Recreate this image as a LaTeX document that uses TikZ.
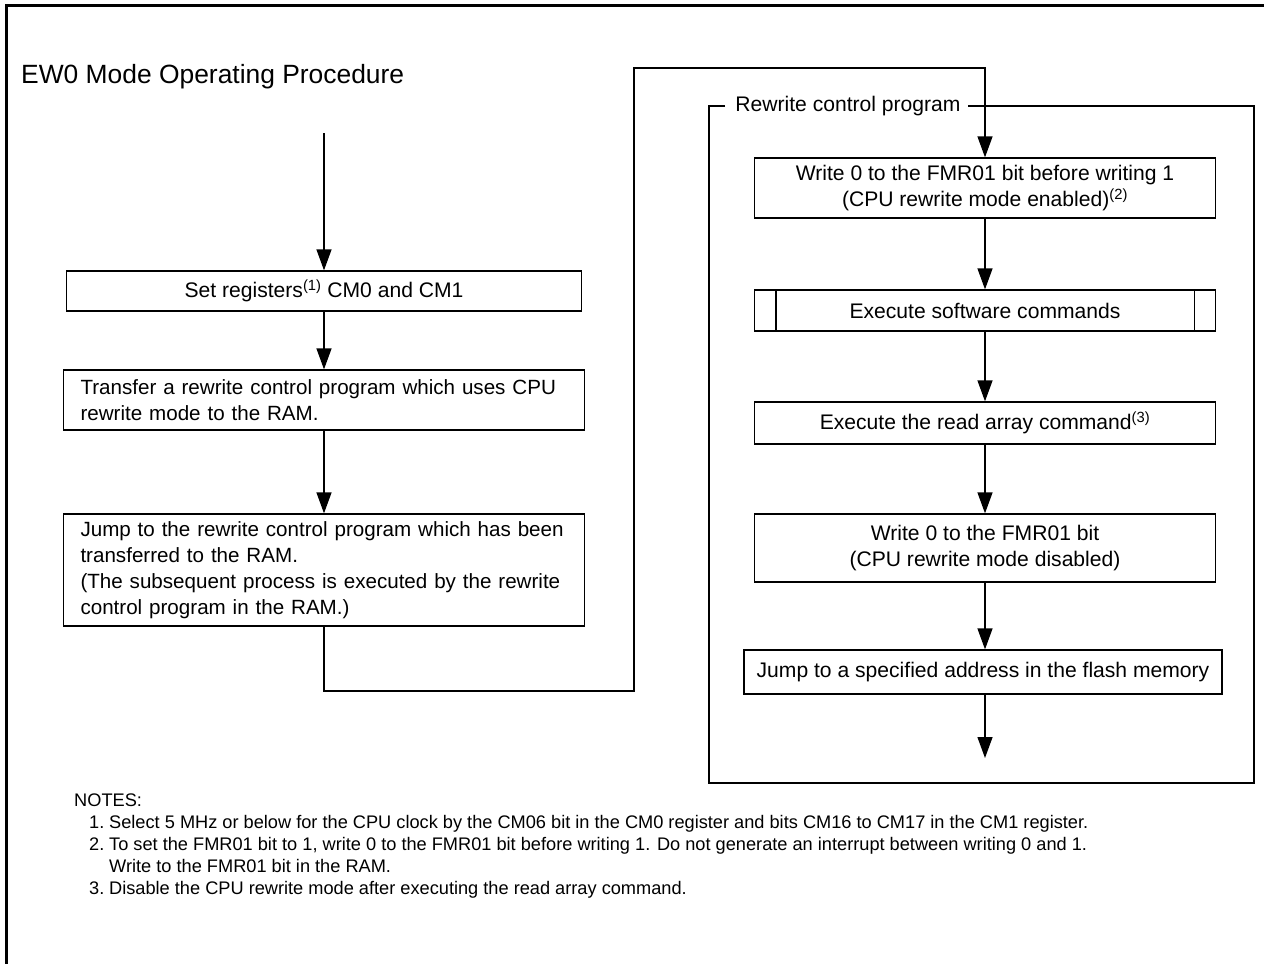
\documentclass[tikz,border=0pt]{standalone}
\usepackage{fontspec}
\setmainfont{Liberation Sans}
\usetikzlibrary{positioning,arrows.meta}

\begin{document}
\begin{tikzpicture}[
  x=1pt, y=-1pt,
  box/.style={draw, line width=1.3pt, inner sep=0pt, align=center, minimum width=461pt, font=\fontsize{21.1}{26.5}\selectfont},
  lbox/.style={box, minimum width=521pt, text width=487pt, inner xsep=17pt, align=left, font=\fontsize{20.6}{26.2}\selectfont},
  arrow/.style={-{Triangle[length=21pt,width=15pt]}, line width=1.3pt},
  note/.style={align=left, inner sep=0pt, font=\fontsize{18.2}{22}\selectfont}
]
\useasboundingbox (0,0) rectangle (1264,964);
\draw[line width=3pt] (6.5,964) -- (6.5,5.5) -- (1264,5.5);
\node[anchor=base west, inner sep=0pt, font=\fontsize{26.4}{30}\selectfont] (title) at (21,83) {EW0 Mode Operating Procedure};

% left column
\coordinate (start) at (324,133);
\node[box, minimum width=515pt, minimum height=40pt] (regs) at (324,291) {Set registers\textsuperscript{(1)} CM0 and CM1};
\node[lbox, minimum height=60pt] (xfer) at (324,400) {Transfer a rewrite control program which uses CPU\\rewrite mode to the RAM.};
\node[lbox, minimum height=112pt] (jump) at (324,570) {Jump to the rewrite control program which has been\\transferred to the RAM.\\(The subsequent process is executed by the rewrite\\control program in the RAM.)};
\coordinate (turn) at (634,691);
\coordinate (over) at (985,68);

% rewrite control program
\draw[line width=1.3pt] (725,106) -| (709,783) -| (1254,106) -- (968,106);
\node[font=\fontsize{21.1}{26}\selectfont, inner sep=0pt] (rcp) at (848,106) {Rewrite control program};
\node[box, minimum height=60pt] (enable) at (985,188) {Write 0 to the FMR01 bit before writing 1\\(CPU rewrite mode enabled)\textsuperscript{(2)}};
\node[box, minimum height=41pt] (exec) at (985,310.5) {Execute software commands};
\draw[line width=1.3pt] ([xshift=22pt]exec.north west) -- ([xshift=22pt]exec.south west)
  ([xshift=-22pt]exec.north east) -- ([xshift=-22pt]exec.south east);
\node[box, minimum height=42pt] (read) at (985,423) {Execute the read array command\textsuperscript{(3)}};
\node[box, minimum height=68pt] (disable) at (985,548) {Write 0 to the FMR01 bit\\(CPU rewrite mode disabled)};
\node[box, minimum width=478pt, minimum height=44pt] (flash) at (983,672) {Jump to a specified address in the flash memory};
\coordinate (end) at (985,758);

\draw[arrow] (start) -- (regs);
\draw[arrow] (regs) -- (xfer);
\draw[arrow] (xfer) -- (jump);
\draw[arrow] (jump.south) |- (turn) |- (over) -- (enable.north);
\draw[arrow] (enable) -- (exec);
\draw[arrow] (exec) -- (read);
\draw[arrow] (read) -- (disable);
\draw[arrow] (disable.south) -- (flash.north -| disable.south);
\draw[arrow] (flash.south -| end) -- (end);

% notes
\node[note, anchor=north west] (notes) at (74,794) {NOTES:\\
\hspace*{15pt}\makebox[20pt][l]{1.}Select 5 MHz or below for the CPU clock by the CM06 bit in the CM0 register and bits CM16 to CM17 in the CM1 register.\\
\hspace*{15pt}\makebox[20pt][l]{2.}To set the FMR01 bit to 1, write 0 to the FMR01 bit before writing 1. Do not generate an interrupt between writing 0 and 1.\\
\hspace*{35pt}Write to the FMR01 bit in the RAM.\\
\hspace*{15pt}\makebox[20pt][l]{3.}Disable the CPU rewrite mode after executing the read array command.};
\end{tikzpicture}
\end{document}
